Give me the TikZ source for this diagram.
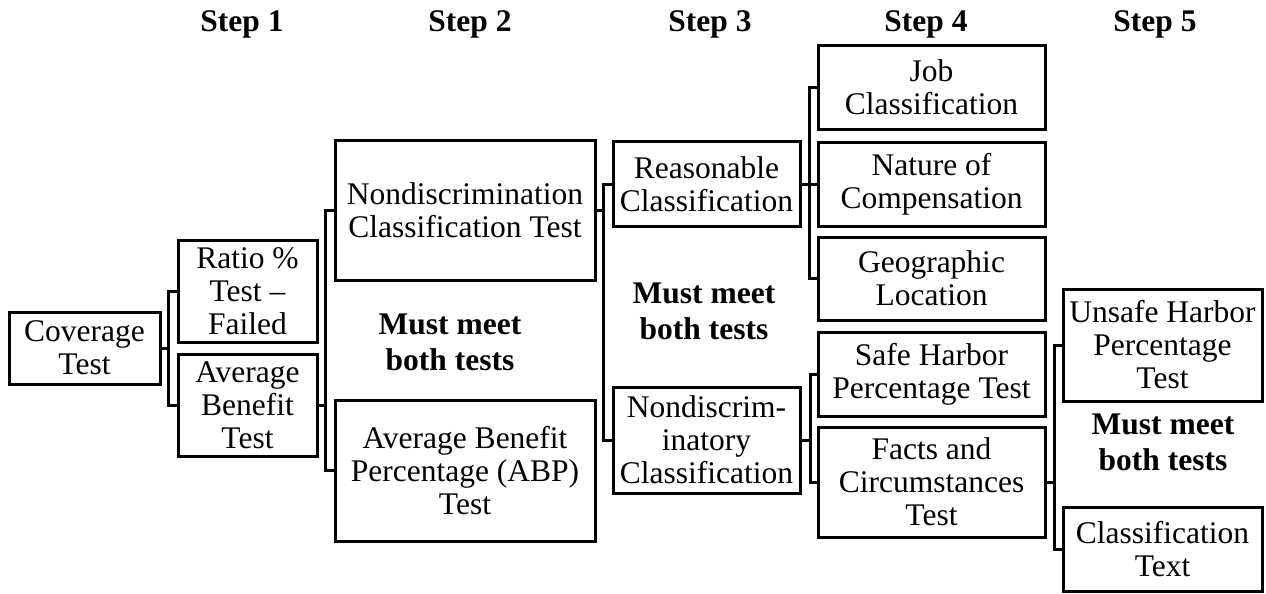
\documentclass[tikz,border=0pt]{standalone}
\usepackage{fontspec}
\setmainfont{Liberation Serif}
\begin{document}
\begin{tikzpicture}[x=1pt,y=-1pt,
  every node/.style={font=\fontsize{31.5}{33}\selectfont},
  box/.style 2 args={draw, line width=3pt, inner sep=0pt, outer sep=0pt,
    align=center, minimum width=#1, minimum height=#2},
  head/.style={font=\fontsize{31.5}{36}\selectfont\bfseries, anchor=base},
  note/.style={font=\fontsize{31.5}{36}\selectfont\bfseries, align=center},
  conn/.style={line width=3pt}]
\fill[white] (0,0) rectangle (1266,594);
\useasboundingbox (0,0) rectangle (1266,594);

% column headings
\node[head] (s1) at (242,32) {Step 1};
\node[head] (s2) at (470,32) {Step 2};
\node[head] (s3) at (710,32) {Step 3};
\node[head] (s4) at (926,32) {Step 4};
\node[head] (s5) at (1155,32) {Step 5};

% step 1
\node[box={151}{72}]  (cov)   at (84.5,348)  {Coverage\\Test};
\node[box={139}{102}] (ratio) at (247.5,291) {Ratio \%\\Test –\\Failed};
\node[box={139}{102}] (avg)   at (247.5,405) {Average\\Benefit\\Test};

% step 2
\node[box={260}{140}] (nct) at (465,210)   {Nondiscrimination\\Classification Test};
\node[box={260}{141}] (abp) at (465,470.5) {Average Benefit\\Percentage (ABP)\\Test};
\node[note] (mm1) at (450,342) {Must meet\\both tests};

% step 3
\node[box={187}{85}]  (rc) at (706.5,184) {Reasonable\\Classification};
\node[box={187}{106}] (nd) at (706.5,440) {Nondiscrim-\\inatory\\Classification};
\node[note] (mm2) at (704,311) {Must meet\\both tests};

% step 4
\node[box={227}{83}]  (job)   at (931.5,87.5)  {Job\\Classification};
\node[box={227}{84}]  (nat)   at (931.5,184)   {Nature of\\Compensation};
\node[box={227}{83}]  (geo)   at (931.5,278.5) {Geographic\\Location};
\node[box={227}{84}]  (safe)  at (931.5,374)   {Safe Harbor\\Percentage Test};
\node[box={227}{110}] (facts) at (931.5,482)   {Facts and\\Circumstances\\Test};

% step 5
\node[box={199}{112}] (unsafe) at (1162.5,345) {Unsafe Harbor\\Percentage\\Test};
\node[box={199}{84}]  (ct)     at (1162.5,549) {Classification\\Text};
\node[note] (mm3) at (1163,442) {Must meet\\both tests};

% bracket junctions
\coordinate (j1) at (168,348);
\coordinate (j2) at (325,405);
\coordinate (j3) at (603,210);
\coordinate (j4) at (809,184);
\coordinate (j5) at (810,440);
\coordinate (j6) at (1054,482);

% connectors
\draw[conn] (cov.east) -- (j1);
\draw[conn] (ratio.west) -| (j1);
\draw[conn] (avg.west) -| (j1);

\draw[conn] (avg.east) -- (j2);
\draw[conn] (nct.west) -| (j2);
\draw[conn] (abp.west) -| (j2);

\draw[conn] (nct.east) -- (j3);
\draw[conn] (rc.west) -| (j3);
\draw[conn] (nd.west) -| (j3);

\draw[conn] (rc.east) -- (nat.west);
\draw[conn] (job.west) -| (j4);
\draw[conn] (geo.west) -| (j4);

\draw[conn] (nd.east) -- (j5);
\draw[conn] (safe.west) -| (j5);
\draw[conn] (facts.west) -| (j5);

\draw[conn] (facts.east) -- (j6);
\draw[conn] (unsafe.west) -| (j6);
\draw[conn] (ct.west) -| (j6);
\end{tikzpicture}
\end{document}
